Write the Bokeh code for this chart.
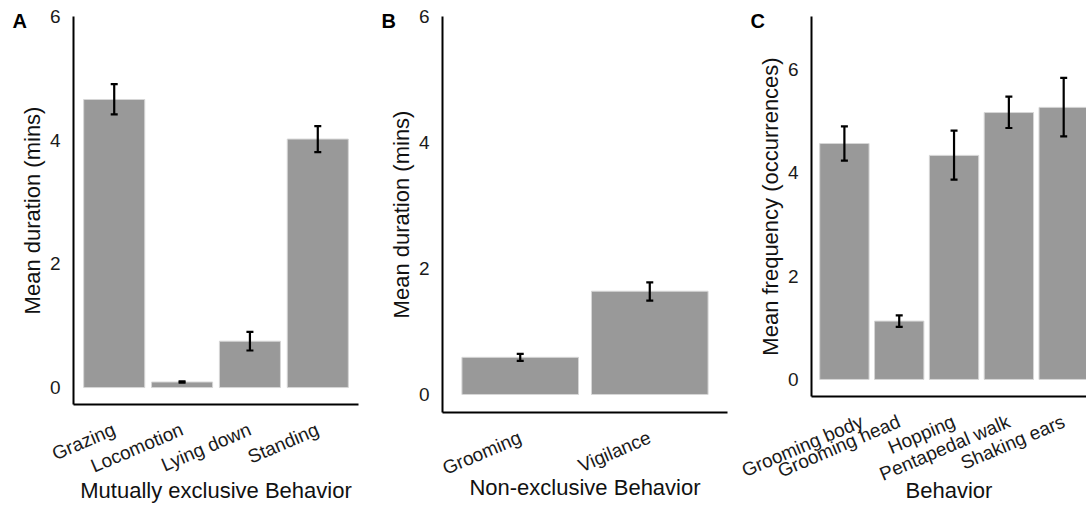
import math

from bokeh.embed import file_html
from bokeh.layouts import column, row
from bokeh.models import ColumnDataSource, FixedTicker, Range1d, TeeHead, Whisker
from bokeh.plotting import figure
from bokeh.resources import INLINE

# --- Panel A: mutually exclusive behaviours (mean duration, mins) ---
excl_behaviors = ["Grazing", "Locomotion", "Lying down", "Standing"]
excl_mean = [4.66, 0.09, 0.75, 4.02]
excl_lower = [4.42, 0.08, 0.60, 3.81]
excl_upper = [4.91, 0.10, 0.90, 4.23]

# --- Panel B: non-exclusive behaviours (mean duration, mins) ---
nonexcl_behaviors = ["Grooming", "Vigilance"]
nonexcl_mean = [0.59, 1.64]
nonexcl_lower = [0.535, 1.49]
nonexcl_upper = [0.646, 1.78]

# --- Panel C: behaviour frequency (mean occurrences) ---
freq_behaviors = ["Grooming body", "Grooming head", "Hopping", "Pentapedal walk", "Shaking ears"]
freq_mean = [4.57, 1.13, 4.34, 5.17, 5.27]
freq_lower = [4.24, 1.02, 3.87, 4.87, 4.71]
freq_upper = [4.90, 1.24, 4.82, 5.48, 5.84]

y_ticks = [0, 2, 4, 6]

FONT = "Liberation Sans"
BAR_FILL = "#999999"
BAR_EDGE = "#d6d6d6"


def make_panel(cats, mean, lower, upper, ylabel, xlabel, tag, y_lo, y_hi,
               x_hi, width, border_left, border_right, border_bottom,
               xlabel_standoff):
    n = len(cats)
    xs = list(range(1, n + 1))
    src = ColumnDataSource(dict(x=xs, top=mean, lower=lower, upper=upper))

    p = figure(
        width=width, height=506,
        x_range=Range1d(0.4, x_hi), y_range=Range1d(y_lo, y_hi),
        output_backend="svg", toolbar_location=None,
        min_border_left=border_left, min_border_right=border_right,
        min_border_top=16, min_border_bottom=border_bottom,
        title=tag,
    )
    p.outline_line_color = None
    p.background_fill_color = "white"
    p.border_fill_color = "white"
    p.xgrid.visible = False
    p.ygrid.visible = False

    # panel tag (A / B / C) in the top-left corner
    p.title.align = "left"
    p.title.offset = -61
    p.title.standoff = -30
    p.title.vertical_align = "bottom"
    p.title.text_font = FONT
    p.title.text_font_size = "20px"
    p.title.text_font_style = "bold"
    p.title.text_color = "black"

    p.vbar(x="x", top="top", bottom=0, width=0.9, source=src,
           fill_color=BAR_FILL, line_color=BAR_EDGE, line_width=1)

    whisk = Whisker(
        base="x", upper="upper", lower="lower", source=src,
        line_color="black", line_width=2.2, level="annotation",
        upper_head=TeeHead(size=7, line_color="black", line_width=2.2),
        lower_head=TeeHead(size=7, line_color="black", line_width=2.2),
    )
    p.add_layout(whisk)

    # x axis
    xa = p.xaxis[0]
    xa.ticker = FixedTicker(ticks=xs)
    xa.major_label_overrides = {x: c for x, c in zip(xs, cats)}
    xa.major_label_orientation = math.radians(23)
    xa.major_tick_line_color = None
    xa.minor_tick_line_color = None
    xa.major_tick_out = 0
    xa.major_tick_in = 0
    xa.major_label_standoff = 24
    xa.axis_line_color = "black"
    xa.axis_line_width = 2
    xa.major_label_text_font = FONT
    xa.major_label_text_font_size = "19px"
    xa.major_label_text_color = "#1a1a1a"
    xa.axis_label = xlabel
    xa.axis_label_text_font = FONT
    xa.axis_label_text_font_size = "22px"
    xa.axis_label_text_font_style = "normal"
    xa.axis_label_text_color = "#111111"
    xa.axis_label_standoff = xlabel_standoff

    # y axis
    ya = p.yaxis[0]
    ya.ticker = FixedTicker(ticks=y_ticks)
    ya.major_tick_line_color = None
    ya.minor_tick_line_color = None
    ya.major_tick_out = 0
    ya.major_tick_in = 0
    ya.major_label_standoff = 13
    ya.axis_line_color = "black"
    ya.axis_line_width = 2
    ya.major_label_text_font = FONT
    ya.major_label_text_font_size = "19px"
    ya.major_label_text_color = "#1a1a1a"
    ya.axis_label = ylabel
    ya.axis_label_text_font = FONT
    ya.axis_label_text_font_size = "22px"
    ya.axis_label_text_font_style = "normal"
    ya.axis_label_text_color = "#111111"
    ya.axis_label_standoff = 2
    return p


pa = make_panel(excl_behaviors, excl_mean, excl_lower, excl_upper,
                "Mean duration (mins)", "Mutually exclusive Behavior", "A",
                -0.274, 6.003, 4.6, 369, 73, 11, 101, -11)
pb = make_panel(nonexcl_behaviors, nonexcl_mean, nonexcl_lower, nonexcl_upper,
                "Mean duration (mins)", "Non-exclusive Behavior", "B",
                -0.286, 6.003, 2.6, 369, 73, 11, 94, -16)
pc = make_panel(freq_behaviors, freq_mean, freq_lower, freq_upper,
                "Mean frequency (occurrences)", "Behavior", "C",
                -0.33, 7.03, 5.416, 348, 73, 0, 108, -19)

layout = row(column(pa), column(pb), column(pc), spacing=0)

with open("out.html", "w") as f:
    f.write(file_html(layout, INLINE))
